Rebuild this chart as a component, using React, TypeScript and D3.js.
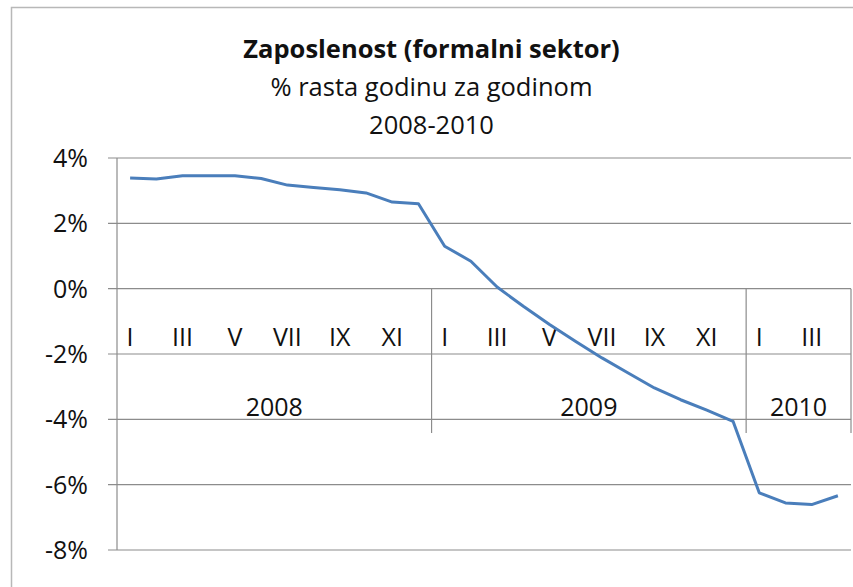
import React, { useEffect, useRef } from "react";
import * as d3 from "d3";

// chart data
const years = ["2008", "2009", "2010"];
const monthsPerYear = [12, 12, 4];
const romanMonths = ["I", "II", "III", "IV", "V", "VI", "VII", "VIII", "IX", "X", "XI", "XII"];
const growthPct = [
  3.39, 3.36, 3.46, 3.46, 3.46, 3.37, 3.17, 3.1, 3.03, 2.93, 2.65, 2.6,
  1.3, 0.84, 0.05, -0.54, -1.1, -1.62, -2.12, -2.58, -3.04, -3.4, -3.72, -4.06,
  -6.25, -6.56, -6.61, -6.34,
];
const yTicks = [4, 2, 0, -2, -4, -6, -8];
const titleLines = ["Zaposlenost (formalni sektor)", "% rasta godinu za godinom", "2008-2010"];

const W = 853;
const H = 587;
const FONT = "'Open Sans', sans-serif";

const App = () => {
  const svgRef = useRef<SVGSVGElement>(null);

  useEffect(() => {
    const svg = d3.select(svgRef.current);
    svg.selectAll("*").remove();

    // build category list (year, month index)
    const cats: { key: string; year: string; month: number }[] = [];
    years.forEach((y, yi) => {
      for (let m = 0; m < monthsPerYear[yi]; m++) cats.push({ key: `${y}-${m}`, year: y, month: m });
    });
    const data = cats.map((c, i) => ({ ...c, value: growthPct[i] }));

    const left = 117;
    const right = 851;
    const x = d3.scaleBand().domain(cats.map((c) => c.key)).range([left, right]).padding(0);
    const y = d3.scaleLinear().domain([-8, 4]).range([550, 158]);

    // chart border
    svg
      .append("rect")
      .attr("x", 11.5)
      .attr("y", 7.5)
      .attr("width", 860)
      .attr("height", 600)
      .attr("fill", "white")
      .attr("stroke", "#b8b8b8")
      .attr("stroke-width", 1.5);

    const gridColor = "#8c8c8c";

    // gridlines + ticks
    svg
      .append("g")
      .selectAll("line")
      .data(yTicks)
      .enter()
      .append("line")
      .attr("x1", left - 9)
      .attr("x2", right)
      .attr("y1", (d) => y(d))
      .attr("y2", (d) => y(d))
      .attr("stroke", gridColor)
      .attr("stroke-width", 1.2);

    // y axis line
    svg
      .append("line")
      .attr("x1", left)
      .attr("x2", left)
      .attr("y1", y(4))
      .attr("y2", y(-8))
      .attr("stroke", gridColor)
      .attr("stroke-width", 1.2);

    // y labels
    svg
      .append("g")
      .selectAll("text")
      .data(yTicks)
      .enter()
      .append("text")
      .attr("x", 88)
      .attr("y", (d) => y(d) + 9)
      .attr("text-anchor", "end")
      .attr("font-family", FONT)
      .attr("font-size", 25)
      .attr("fill", "#111")
      .text((d) => `${d}%`);

    // group separators
    const bounds: number[] = [];
    let idx = 0;
    monthsPerYear.forEach((n) => {
      idx += n;
      bounds.push(left + x.bandwidth() * idx);
    });
    svg
      .append("g")
      .selectAll("line")
      .data(bounds)
      .enter()
      .append("line")
      .attr("x1", (d) => d)
      .attr("x2", (d) => d)
      .attr("y1", y(0))
      .attr("y2", 433)
      .attr("stroke", gridColor)
      .attr("stroke-width", 1.2);

    // month labels (odd months only)
    svg
      .append("g")
      .selectAll("text")
      .data(data.filter((d) => d.month % 2 === 0))
      .enter()
      .append("text")
      .attr("x", (d) => (x(d.key) as number) + x.bandwidth() / 2)
      .attr("y", 346)
      .attr("text-anchor", "middle")
      .attr("font-family", FONT)
      .attr("font-size", 25)
      .attr("fill", "#111")
      .text((d) => romanMonths[d.month]);

    // year labels
    let start = 0;
    years.forEach((yr, yi) => {
      const x0 = left + x.bandwidth() * start;
      const x1 = left + x.bandwidth() * (start + monthsPerYear[yi]);
      svg
        .append("text")
        .attr("x", (x0 + x1) / 2)
        .attr("y", 416)
        .attr("text-anchor", "middle")
        .attr("font-family", FONT)
        .attr("font-size", 25)
        .attr("fill", "#111")
        .text(yr);
      start += monthsPerYear[yi];
    });

    // line
    const line = d3
      .line<(typeof data)[number]>()
      .x((d) => (x(d.key) as number) + x.bandwidth() / 2)
      .y((d) => y(d.value));
    svg
      .append("path")
      .datum(data)
      .attr("d", line)
      .attr("fill", "none")
      .attr("stroke", "#4a7ebb")
      .attr("stroke-width", 3)
      .attr("stroke-linejoin", "round");

    // titles
    const cx = 431.5;
    const titleY = [58, 96, 134];
    titleLines.forEach((t, i) => {
      svg
        .append("text")
        .attr("x", cx)
        .attr("y", titleY[i])
        .attr("text-anchor", "middle")
        .attr("font-family", FONT)
        .attr("font-weight", i === 0 ? "bold" : "normal")
        .attr("font-size", 25.5)
        .attr("fill", "#111")
        .text(t);
    });
  }, []);

  return (
    <svg
      ref={svgRef}
      width={W}
      height={H}
      style={{ position: "absolute", left: 0, top: 0, display: "block" }}
    ></svg>
  );
};

export default App;
